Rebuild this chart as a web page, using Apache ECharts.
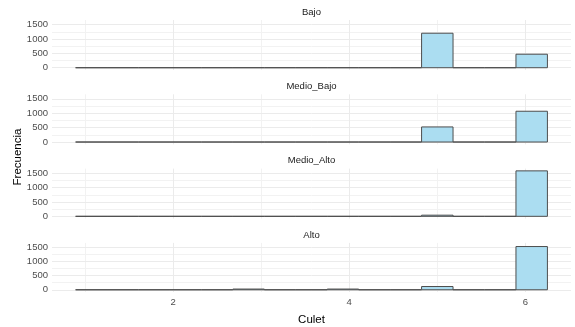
<!DOCTYPE html>
<html>
<head>
<meta charset="utf-8">
<script src="https://cdn.jsdelivr.net/npm/echarts@6/dist/echarts.min.js"></script>
<style>html,body{margin:0;padding:0;background:#fff}#c{width:575px;height:327px}</style>
</head>
<body>
<div id="c"></div>
<script>
// ---- data ----
const culetValues = [1, 2, 3, 4, 5, 6];
const panelNames = ['Bajo', 'Medio_Bajo', 'Medio_Alto', 'Alto'];
const countsBajo = [0, 0, 0, 0, 1200, 470];
const countsMedioBajo = [0, 0, 0, 0, 525, 1070];
const countsMedioAlto = [0, 0, 0, 0, 40, 1580];
const countsAlto = [0, 0, 25, 25, 115, 1530];
const yTickLabels = [0, 500, 1000, 1500];
const yMinorTicks = [250, 750, 1250];
const xTickLabels = [2, 4, 6];
const xMinorTicks = [1, 3, 5];
const nBins = 15;

const allCounts = [countsBajo, countsMedioBajo, countsMedioAlto, countsAlto];

// histogram bins (ggplot2 bins=15 over range of culetValues)
const dataMin = Math.min(...culetValues), dataMax = Math.max(...culetValues);
const binWidth = (dataMax - dataMin) / (nBins - 1);
const boundary = binWidth / 2;
const origin = boundary + Math.floor((dataMin - boundary) / binWidth) * binWidth;
const xLo = origin, xHi = origin + nBins * binWidth;
const xPad = 0.05 * (xHi - xLo);
let maxCount = 0;
allCounts.forEach(a => a.forEach(v => { if (v > maxCount) maxCount = v; }));
const yMin = -0.05 * maxCount, yMax = 1.05 * maxCount;

function binsFor(counts) {
  const bins = [];
  for (let i = 0; i < nBins; i++) bins.push([origin + i * binWidth, origin + (i + 1) * binWidth, 0]);
  culetValues.forEach((v, k) => {
    const idx = Math.floor((v - origin) / binWidth);
    bins[idx][2] += counts[k];
  });
  return bins;
}

const tops = [20, 94.3, 168.6, 242.9];
const gridH = 50;
const left = 52, right = 4;
const grids = [], xAxes = [], yAxes = [], series = [], graphics = [];
const font = 'Liberation Sans, Arial, sans-serif';

panelNames.forEach((name, i) => {
  const isLast = i === panelNames.length - 1;
  grids.push({ left: left, right: right, top: tops[i], height: gridH, containLabel: false });
  xAxes.push({
    type: 'value', gridIndex: i, min: xLo - xPad, max: xHi + xPad,
    axisLine: { show: false }, axisTick: { show: false }, splitLine: { show: false },
    axisLabel: isLast ? { show: true, customValues: xTickLabels, formatter: v => String(v), color: '#4d4d4d', fontSize: 9.5, fontFamily: font, margin: 5 } : { show: false },
    name: isLast ? 'Culet' : '', nameLocation: 'middle', nameGap: 22,
    nameTextStyle: { color: '#000', fontSize: 11.5, fontFamily: font }
  });
  yAxes.push({
    type: 'value', gridIndex: i, min: yMin, max: yMax,
    axisLine: { show: false }, axisTick: { show: false }, splitLine: { show: false },
    axisLabel: { customValues: yTickLabels, formatter: v => String(v), color: '#4d4d4d', fontSize: 9.5, fontFamily: font, margin: 4 }
  });
  const gridLines = [];
  yMinorTicks.forEach(v => gridLines.push({ yAxis: v, lineStyle: { color: '#f2f2f2', width: 1, type: 'solid' } }));
  xMinorTicks.forEach(v => gridLines.push({ xAxis: v, lineStyle: { color: '#f2f2f2', width: 1, type: 'solid' } }));
  yTickLabels.forEach(v => gridLines.push({ yAxis: v, lineStyle: { color: '#ebebeb', width: 1, type: 'solid' } }));
  xTickLabels.forEach(v => gridLines.push({ xAxis: v, lineStyle: { color: '#ebebeb', width: 1, type: 'solid' } }));
  series.push({
    type: 'line', xAxisIndex: i, yAxisIndex: i, data: [], z: 0, silent: true,
    markLine: { silent: true, z: 0, symbol: 'none', label: { show: false }, animation: false,
      lineStyle: { type: 'solid' }, emphasis: { disabled: true }, data: gridLines }
  });
  series.push({
    type: 'custom', xAxisIndex: i, yAxisIndex: i, z: 5, animation: false,
    data: binsFor(allCounts[i]),
    renderItem: function (params, api) {
      const p0 = api.coord([api.value(0), 0]);
      const p1 = api.coord([api.value(1), api.value(2)]);
      return {
        type: 'rect',
        shape: { x: p0[0], y: p1[1], width: p1[0] - p0[0], height: p0[1] - p1[1] },
        style: { fill: '#abddf1', stroke: '#4d4d4d', lineWidth: 1 }
      };
    }
  });
  graphics.push({
    type: 'text', x: left + (575 - left - right) / 2, y: tops[i] - 8,
    style: { text: name, fill: '#1a1a1a', font: '9.5px ' + font, textAlign: 'center', textVerticalAlign: 'middle' }
  });
});

graphics.push({
  type: 'text', x: 18, y: 157, rotation: Math.PI / 2,
  style: { text: 'Frecuencia', fill: '#000', font: '11.5px ' + font, textAlign: 'center', textVerticalAlign: 'middle' }
});

const chart = echarts.init(document.getElementById('c'), null, { renderer: 'canvas' });
chart.setOption({
  animation: false,
  backgroundColor: '#ffffff',
  grid: grids, xAxis: xAxes, yAxis: yAxes, series: series, graphic: graphics
});
</script>
</body>
</html>
